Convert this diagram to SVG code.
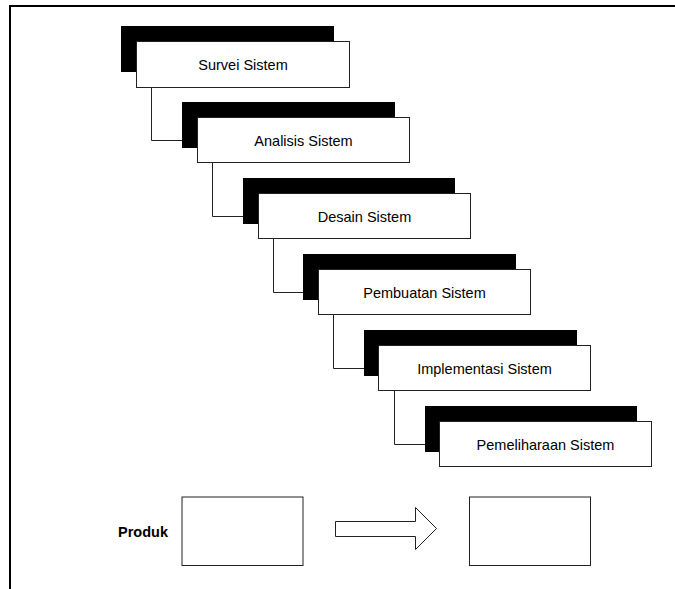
<svg xmlns="http://www.w3.org/2000/svg" width="675" height="589" viewBox="0 0 675 589">
<style>
.sh{fill:#000;stroke:none}
.bx{fill:#fff;stroke:#222;stroke-width:1}
.lb{font-family:"Liberation Sans",Arial,sans-serif;font-size:14.5px;fill:#000;text-anchor:middle}
.cn{fill:none;stroke:#222;stroke-width:1}
.fr{fill:none;stroke:#000;stroke-width:2}
</style>
<rect width="675" height="589" fill="#fff"/>
<g id="frame">
<path class="fr" d="M675,6 H10 V589"/>
</g>
<g id="connectors">
<path class="cn" d="M151.5,87 V140.5 H182"/>
<path class="cn" d="M212.5,163 V216.5 H243"/>
<path class="cn" d="M273.5,239 V292.5 H303"/>
<path class="cn" d="M333.5,315 V368.5 H364"/>
<path class="cn" d="M394.5,391 V444.5 H425"/>
</g>
<g id="survei">
<rect class="sh" x="121" y="26" width="213" height="46"/>
<rect class="bx" x="136.5" y="41.5" width="213" height="46"/>
<text class="lb" x="243" y="69.5">Survei Sistem</text>
</g>
<g id="analisis">
<rect class="sh" x="182" y="102" width="213" height="46"/>
<rect class="bx" x="197.5" y="117.5" width="212" height="45"/>
<text class="lb" x="303.5" y="145.5">Analisis Sistem</text>
</g>
<g id="desain">
<rect class="sh" x="243" y="178" width="212" height="46"/>
<rect class="bx" x="258.5" y="193.5" width="212" height="45"/>
<text class="lb" x="364.5" y="221.5">Desain Sistem</text>
</g>
<g id="pembuatan">
<rect class="sh" x="303" y="254" width="213" height="46"/>
<rect class="bx" x="318.5" y="269.5" width="212" height="45"/>
<text class="lb" x="424.5" y="297.5">Pembuatan Sistem</text>
</g>
<g id="implementasi">
<rect class="sh" x="364" y="330" width="213" height="46"/>
<rect class="bx" x="378.5" y="345.5" width="212" height="45"/>
<text class="lb" x="484.5" y="373.5">Implementasi Sistem</text>
</g>
<g id="pemeliharaan">
<rect class="sh" x="425" y="406" width="212" height="46"/>
<rect class="bx" x="439.5" y="421.5" width="212" height="45"/>
<text class="lb" x="545.5" y="449.5">Pemeliharaan Sistem</text>
</g>
<g id="produk">
<text x="118" y="536.5" style="font-family:'Liberation Sans',Arial,sans-serif;font-size:14.5px;font-weight:bold;fill:#000">Produk</text>
</g>
<g id="box-left">
<rect class="bx" x="182" y="497" width="121" height="68.5"/>
</g>
<g id="arrow">
<polygon class="bx" points="335.5,521.5 415.5,521.5 415.5,507.5 436.5,528.5 415.5,549.5 415.5,536.5 335.5,536.5"/>
</g>
<g id="box-right">
<rect class="bx" x="469.5" y="497" width="121" height="68.5"/>
</g>
</svg>
